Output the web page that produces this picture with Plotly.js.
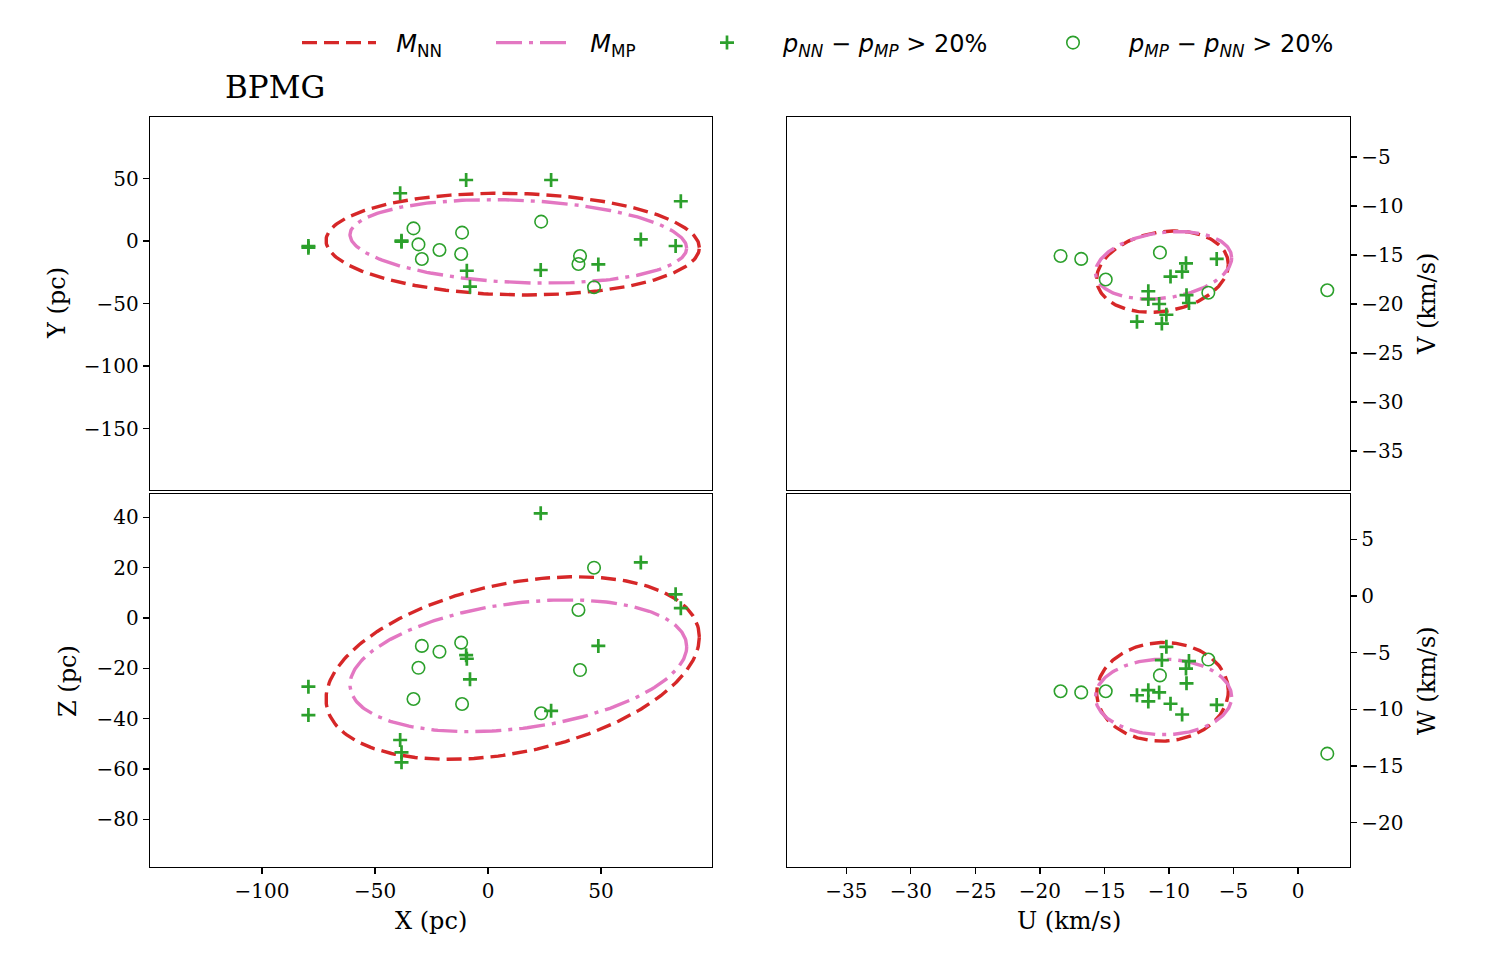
<!DOCTYPE html>
<html>
<head>
<meta charset="utf-8">
<script src="https://cdn.plot.ly/plotly-3.0.1.min.js"></script>
<style>
  html, body { margin: 0; padding: 0; background: #fff; }
  #chart { width: 1500px; height: 975px; }
</style>
</head>
<body>
<div id="chart"></div>
<script>
// Members favoured by the NN model (p_NN - p_MP > 20%): positions in pc
const nnX = [-79.5, -79.5, -38.9, -38.3, -38.3, -9.7, -9.4, -8.0, 23.3, 27.9, 48.8, 67.6, 83.0, 85.3];
const nnY = [-4.0, -5.3, 38.2, 0.3, -0.5, 48.8, -23.8, -36.5, -23.2, 48.8, -18.7, 1.3, -4.0, 31.8];
const nnZ = [-27.3, -38.6, -48.5, -53.4, -57.4, -14.8, -16.2, -24.4, 41.6, -36.9, -11.1, 22.1, 9.4, 3.9];
// ... and the UVW velocities (km/s) of those with full kinematics
const nnU = [-6.3, -8.68, -8.98, -9.88, -11.6, -11.6, -10.76, -8.64, -8.45, -10.2, -12.48, -10.55];
const nnV = [-15.4, -15.85, -16.7, -17.2, -18.7, -19.5, -20.0, -19.1, -19.9, -21.1, -21.8, -22.0];
const nnW = [-9.6, -6.4, -10.45, -9.5, -8.3, -9.3, -8.5, -7.7, -5.74, -4.48, -8.75, -5.65];

// Members favoured by the MP model (p_MP - p_NN > 20%)
const mpX = [-33.0, -30.8, -29.3, -21.5, -11.5, -11.9, 23.5, 40.7, 40.0, 46.9];
const mpY = [10.1, -2.7, -14.4, -7.2, 6.7, -10.4, 15.5, -12.0, -18.4, -37.0];
const mpZ = [-32.2, -19.8, -11.1, -13.4, -34.2, -9.8, -37.9, -20.7, 3.2, 20.0];
const mpU = [-18.4, -16.8, -14.9, -10.7, -6.95, 2.27];
const mpV = [-15.1, -15.4, -17.5, -14.75, -18.85, -18.6];
const mpW = [-8.4, -8.5, -8.4, -7.0, -5.6, -13.9];

// Model contours: [centre_a, centre_b, half-extent_a, half-extent_b, correlation]
const nnEllXY = [10.9, -2.5, 82.6, 40.7, -0.07];
const nnEllXZ = [10.9, -19.9, 82.6, 36.3, 0.34];
const nnEllUV = [-10.5, -16.7, 5.1, 4.15, 0.18];
const nnEllUW = [-10.5, -8.45, 5.1, 4.35, 0.02];
const mpEllXY = [13.4, -0.3, 74.5, 33.4, -0.16];
const mpEllXZ = [13.4, -19.0, 74.5, 26.2, 0.29];
const mpEllUV = [-10.42, -16.05, 5.28, 3.45, 0.22];
const mpEllUW = [-10.42, -8.9, 5.28, 3.33, 0.0];

const RED = '#d62728', PINK = '#e377c2', GREEN = '#2ca02c';
const SERIF = 'DejaVu Serif', SANS = 'DejaVu Sans';
const GAP = '\u00a0\u00a0';

// Outline of a correlated Gaussian contour from its parameters
function contour(p) {
  const [ca, cb, ha, hb, rho] = p;
  const s = Math.sqrt(1 - rho * rho);
  const a = [], b = [];
  for (let i = 0; i <= 240; i++) {
    const t = 2 * Math.PI * i / 240;
    a.push(ca + ha * Math.cos(t));
    b.push(cb + hb * (rho * Math.cos(t) + s * Math.sin(t)));
  }
  return [a, b];
}

const panels = [
  {xa: 'x',  ya: 'y',  nn: [nnX, nnY], mp: [mpX, mpY], eNN: nnEllXY, eMP: mpEllXY},
  {xa: 'x2', ya: 'y2', nn: [nnU, nnV], mp: [mpU, mpV], eNN: nnEllUV, eMP: mpEllUV},
  {xa: 'x3', ya: 'y3', nn: [nnX, nnZ], mp: [mpX, mpZ], eNN: nnEllXZ, eMP: mpEllXZ},
  {xa: 'x4', ya: 'y4', nn: [nnU, nnW], mp: [mpU, mpW], eNN: nnEllUW, eMP: mpEllUW}
];

const traces = [];
panels.forEach((p, i) => {
  const first = i === 0;
  const [ra, rb] = contour(p.eNN);
  traces.push({type: 'scatter', mode: 'lines', x: ra, y: rb, xaxis: p.xa, yaxis: p.ya,
    line: {color: RED, width: 3.4, dash: '15px,7px'},
    name: GAP + '<i>M</i><sub>NN</sub>', legend: 'legend', legendgroup: 'nn', showlegend: first, hoverinfo: 'skip'});
  const [pa, pb] = contour(p.eMP);
  traces.push({type: 'scatter', mode: 'lines', x: pa, y: pb, xaxis: p.xa, yaxis: p.ya,
    line: {color: PINK, width: 3.4, dash: '26px,7px,4px,7px'},
    name: GAP + '<i>M</i><sub>MP</sub>', legend: 'legend2', legendgroup: 'mp', showlegend: first, hoverinfo: 'skip'});
});
panels.forEach((p, i) => {
  const first = i === 0;
  traces.push({type: 'scatter', mode: 'markers', x: p.nn[0], y: p.nn[1], xaxis: p.xa, yaxis: p.ya,
    marker: {symbol: 'cross-thin', size: 10, color: GREEN, line: {color: GREEN, width: 2.7}},
    name: '<i>p<sub>NN</sub></i> − <i>p<sub>MP</sub></i> &gt; 20%', legend: 'legend3',
    legendgroup: 'pn', showlegend: first});
  traces.push({type: 'scatter', mode: 'markers', x: p.mp[0], y: p.mp[1], xaxis: p.xa, yaxis: p.ya,
    marker: {symbol: 'circle-open', size: 12.5, color: GREEN, line: {color: GREEN, width: 1.6}},
    name: '<i>p<sub>MP</sub></i> − <i>p<sub>NN</sub></i> &gt; 20%', legend: 'legend4',
    legendgroup: 'pm', showlegend: first});
});

const W = 1500, H = 975;
const colL = [150 / W, 712 / W], colR = [787 / W, 1350 / W];
const rowT = [1 - 490 / H, 1 - 117 / H], rowB = [1 - 867 / H, 1 - 494 / H];

function ax(extra) {
  return Object.assign({
    showline: true, mirror: true, linecolor: '#000', linewidth: 1.2,
    ticks: 'outside', ticklen: 6, tickwidth: 1.2, tickcolor: '#000',
    showgrid: false, zeroline: false, automargin: false,
    tickfont: {family: SERIF, size: 20, color: '#000'}
  }, extra);
}
const xLeftRange = [-149.6, 99.1], xRightRange = [-39.6, 4.03];

function legendAt(x, iw) {
  return {orientation: 'h', x: x, y: 1 - 43 / H, xanchor: 'left', yanchor: 'middle',
    font: {family: SANS, size: 24, color: '#000'}, bgcolor: 'rgba(0,0,0,0)', itemwidth: iw,
    itemclick: false, itemdoubleclick: false};
}

// Axis titles and panel label placed in figure pixels
function label(text, px, py, angle, size) {
  return {text: text, xref: 'paper', yref: 'paper', x: px / W, y: 1 - py / H,
    xanchor: 'center', yanchor: 'middle', showarrow: false, textangle: angle,
    font: {family: SERIF, size: size, color: '#000'}};
}

const layout = {
  width: W, height: H,
  margin: {l: 0, r: 0, t: 0, b: 0},
  paper_bgcolor: '#fff', plot_bgcolor: '#fff',
  showlegend: true,
  legend: legendAt(297 / W, 74),
  legend2: legendAt(491 / W, 74),
  legend3: legendAt(671 / W, 102),
  legend4: legendAt(1017 / W, 102),
  xaxis:  ax({domain: colL, anchor: 'y',  range: xLeftRange, ticks: '', showticklabels: false}),
  yaxis:  ax({domain: rowT, anchor: 'x',  range: [-199.2, 99.2], tickvals: [50, 0, -50, -100, -150]}),
  xaxis2: ax({domain: colR, anchor: 'y2', range: xRightRange, ticks: '', showticklabels: false}),
  yaxis2: ax({domain: rowT, anchor: 'x2', side: 'right', range: [-38.98, -0.92], dtick: 5, tick0: 0}),
  xaxis3: ax({domain: colL, anchor: 'y3', range: xLeftRange, tickvals: [-100, -50, 0, 50]}),
  yaxis3: ax({domain: rowB, anchor: 'x3', range: [-99.0, 49.3], dtick: 20, tick0: 0}),
  xaxis4: ax({domain: colR, anchor: 'y4', range: xRightRange, dtick: 5, tick0: 0}),
  yaxis4: ax({domain: rowB, anchor: 'x4', side: 'right', range: [-23.9, 9.0], dtick: 5, tick0: 0}),
  annotations: [
    label('X (pc)', 431, 921, 0, 24),
    label('U (km/s)', 1069, 921, 0, 24),
    label('Y (pc)', 57, 303, -90, 24),
    label('Z (pc)', 68, 681, -90, 24),
    label('V (km/s)', 1427, 304, -90, 24),
    label('W (km/s)', 1427, 681, -90, 24),
    Object.assign(label('BPMG', 223, 87, 0, 31), {xanchor: 'left'})
  ]
};

Plotly.newPlot('chart', traces, layout, {displayModeBar: false, staticPlot: true});
</script>
</body>
</html>
